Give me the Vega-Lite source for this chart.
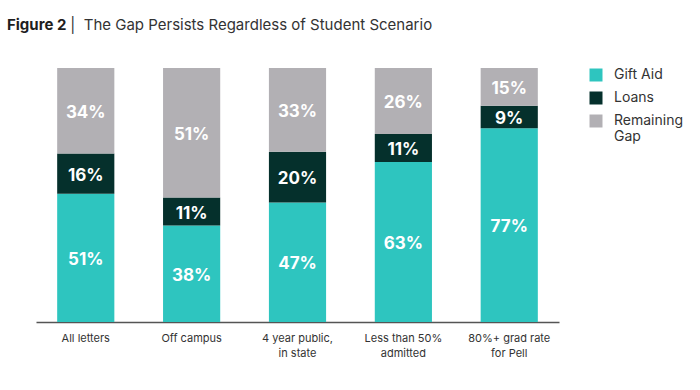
{
  "$schema": "https://vega.github.io/schema/vega-lite/v6.json",
  "width": 523,
  "height": 254,
  "padding": {"left": 7, "top": 18, "right": 0, "bottom": 0},
  "background": "white",
  "title": {
    "text": "Figure 2",
    "subtitle": "\u200d\u00a0\u00a0\u00a0\u00a0\u00a0\u00a0\u00a0\u00a0\u00a0\u00a0\u00a0\u00a0\u00a0\u00a0\u00a0|\u00a0\u00a0The Gap Persists Regardless of Student Scenario",
    "anchor": "start",
    "frame": "group",
    "dx": -29,
    "offset": 35,
    "font": "Inter",
    "fontSize": 15,
    "fontWeight": "bold",
    "color": "#1e1e1e",
    "subtitleFont": "Inter",
    "subtitleFontSize": 15,
    "subtitleFontWeight": "normal",
    "subtitleColor": "#333333",
    "subtitlePadding": -15
  },
  "data": {
    "values": [
      {"category": "All letters", "type": "Gift Aid", "share": 0.51, "ord": 1},
      {"category": "All letters", "type": "Loans", "share": 0.16, "ord": 2},
      {"category": "All letters", "type": "Remaining Gap", "share": 0.34, "ord": 3},
      {"category": "Off campus", "type": "Gift Aid", "share": 0.38, "ord": 1},
      {"category": "Off campus", "type": "Loans", "share": 0.11, "ord": 2},
      {"category": "Off campus", "type": "Remaining Gap", "share": 0.51, "ord": 3},
      {"category": "4 year public,\nin state", "type": "Gift Aid", "share": 0.47, "ord": 1},
      {"category": "4 year public,\nin state", "type": "Loans", "share": 0.20, "ord": 2},
      {"category": "4 year public,\nin state", "type": "Remaining Gap", "share": 0.33, "ord": 3},
      {"category": "Less than 50%\nadmitted", "type": "Gift Aid", "share": 0.63, "ord": 1},
      {"category": "Less than 50%\nadmitted", "type": "Loans", "share": 0.11, "ord": 2},
      {"category": "Less than 50%\nadmitted", "type": "Remaining Gap", "share": 0.26, "ord": 3},
      {"category": "80%+ grad rate\nfor Pell", "type": "Gift Aid", "share": 0.77, "ord": 1},
      {"category": "80%+ grad rate\nfor Pell", "type": "Loans", "share": 0.09, "ord": 2},
      {"category": "80%+ grad rate\nfor Pell", "type": "Remaining Gap", "share": 0.15, "ord": 3}
    ]
  },
  "encoding": {
    "x": {
      "field": "category",
      "type": "nominal",
      "sort": null,
      "scale": {"paddingInner": 0.46, "paddingOuter": 0.2},
      "axis": {
        "title": null,
        "labelAngle": 0,
        "ticks": false,
        "domainColor": "#555555",
        "domainWidth": 1.5,
        "labelPadding": 10,
        "labelFont": "Inter",
        "labelFontSize": 11,
        "labelColor": "#333333",
        "labelLineHeight": 15,
        "labelExpr": "split(datum.value, '\\n')"
      }
    }
  },
  "layer": [
    {
      "mark": {"type": "bar"},
      "encoding": {
        "y": {"field": "share", "type": "quantitative", "stack": "normalize", "scale": {"domain": [0, 1]}, "axis": null},
        "color": {
          "field": "type",
          "type": "nominal",
          "scale": {"domain": ["Gift Aid", "Loans", "Remaining Gap"], "range": ["#2ec5bf", "#05302c", "#b2b0b4"]},
          "legend": {
            "title": null,
            "orient": "right",
            "offset": 30,
            "padding": 0,
            "symbolType": "square",
            "symbolSize": 169,
            "symbolStrokeWidth": 0,
            "labelFont": "Inter",
            "labelFontSize": 14,
            "labelColor": "#333333",
            "labelOffset": 11,
            "rowPadding": 9,
            "labelLineHeight": 14,
            "labelExpr": "datum.label == 'Remaining Gap' ? ['Remaining', 'Gap'] : datum.label"
          }
        },
        "order": {"field": "ord"}
      }
    },
    {
      "mark": {"type": "text", "color": "white", "font": "Inter", "fontWeight": "bold", "fontSize": 17, "baseline": "middle", "dy": 2},
      "encoding": {
        "y": {"field": "share", "type": "quantitative", "stack": "normalize", "bandPosition": 0.5},
        "detail": {"field": "type"},
        "order": {"field": "ord"},
        "text": {"field": "share", "type": "quantitative", "format": ".0%"}
      }
    }
  ],
  "config": {"view": {"stroke": null}}
}
